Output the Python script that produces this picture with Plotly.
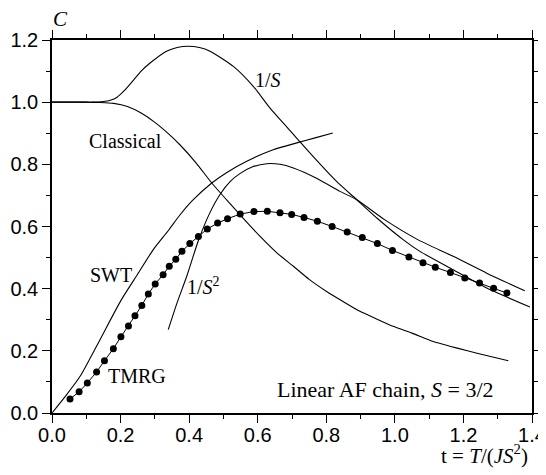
import plotly.graph_objects as go

# ---- data ----
classical_t = [0.0, 0.10, 0.14, 0.18, 0.22, 0.26, 0.30, 0.34, 0.373, 0.42, 0.466, 0.51, 0.548, 0.607, 0.655, 0.704, 0.75, 0.801, 0.85, 0.898, 0.95, 0.995, 1.05, 1.112, 1.16, 1.209, 1.27, 1.331]
classical_c = [1.0, 1.0, 0.999, 0.996, 0.986, 0.965, 0.935, 0.898, 0.863, 0.805, 0.74, 0.685, 0.638, 0.568, 0.516, 0.472, 0.43, 0.391, 0.358, 0.327, 0.301, 0.279, 0.257, 0.23, 0.215, 0.201, 0.184, 0.168]

inv_s_t = [0.0, 0.10, 0.12, 0.15, 0.17, 0.19, 0.21, 0.237, 0.26, 0.286, 0.334, 0.365, 0.397, 0.43, 0.461, 0.529, 0.587, 0.636, 0.689, 0.718, 0.77, 0.83, 0.889, 0.95, 1.025, 1.073, 1.17, 1.268, 1.394]
inv_s_c = [1.0, 1.0, 1.0, 1.002, 1.006, 1.016, 1.036, 1.07, 1.1, 1.126, 1.164, 1.176, 1.18, 1.176, 1.164, 1.115, 1.051, 0.981, 0.915, 0.879, 0.815, 0.745, 0.686, 0.625, 0.557, 0.52, 0.461, 0.402, 0.341]

inv_s2_t = [0.339, 0.365, 0.393, 0.427, 0.46, 0.49, 0.52, 0.548, 0.585, 0.626, 0.665, 0.704, 0.77, 0.84, 0.889, 0.97, 1.068, 1.17, 1.268, 1.379]
inv_s2_c = [0.268, 0.355, 0.44, 0.555, 0.643, 0.703, 0.745, 0.77, 0.792, 0.802, 0.800, 0.788, 0.756, 0.713, 0.686, 0.622, 0.557, 0.504, 0.45, 0.393]

swt_t = [0.0, 0.04, 0.082, 0.14, 0.2, 0.25, 0.295, 0.34, 0.373, 0.407, 0.466, 0.51, 0.568, 0.645, 0.714, 0.77, 0.819]
swt_c = [0.0, 0.055, 0.118, 0.236, 0.36, 0.447, 0.525, 0.588, 0.637, 0.681, 0.74, 0.774, 0.81, 0.847, 0.869, 0.886, 0.901]

tmrg_t = [0.0525, 0.079, 0.103, 0.130, 0.153, 0.179, 0.201, 0.223, 0.242, 0.262, 0.281, 0.301, 0.324, 0.342, 0.361, 0.379, 0.402,
          0.427, 0.453, 0.483, 0.512, 0.549, 0.589, 0.628, 0.665, 0.699, 0.735, 0.774, 0.817,
          0.861, 0.905, 0.949, 0.993, 1.041, 1.082, 1.118, 1.162, 1.204, 1.247, 1.288, 1.327]
tmrg_c = [0.045, 0.068, 0.0965, 0.132, 0.168, 0.207, 0.245, 0.28, 0.313, 0.346, 0.383, 0.415, 0.445, 0.472, 0.495, 0.52, 0.545,
          0.568, 0.592, 0.611, 0.625, 0.64, 0.648, 0.649, 0.644, 0.639, 0.629, 0.617, 0.600,
          0.582, 0.565, 0.545, 0.523, 0.502, 0.483, 0.469, 0.452, 0.434, 0.418, 0.401, 0.386]

x_ticks = [0.0, 0.2, 0.4, 0.6, 0.8, 1.0, 1.2, 1.4]
y_ticks = [0.0, 0.2, 0.4, 0.6, 0.8, 1.0, 1.2]

LINE = dict(color="black", width=1.1)
SERIF = "Liberation Serif, Times New Roman, serif"
SANS = "Liberation Sans, Arial, sans-serif"

fig = go.Figure()
for tx, cy in [(classical_t, classical_c), (inv_s_t, inv_s_c), (inv_s2_t, inv_s2_c), (swt_t, swt_c)]:
    fig.add_trace(go.Scatter(x=tx, y=cy, mode="lines", line=dict(shape="spline", smoothing=0.6, **LINE),
                             showlegend=False, hoverinfo="skip"))
fig.add_trace(go.Scatter(x=tmrg_t, y=tmrg_c, mode="lines+markers",
                         line=dict(color="black", width=1),
                         marker=dict(color="black", size=7),
                         showlegend=False, hoverinfo="skip"))

axis_common = dict(
    showline=True, linecolor="black", linewidth=1.6, mirror="ticks",
    ticks="outside", ticklen=8, tickwidth=1.4, tickcolor="black",
    showgrid=False, zeroline=False, tickformat=".1f", automargin=False,
    tickfont=dict(family=SANS, size=20, color="black"),
    minor=dict(ticks="outside", ticklen=4, tickwidth=1.2, tickcolor="black", dtick=0.1, showgrid=False),
)
fig.update_xaxes(range=[0, 1.4], tickvals=x_ticks, ticklabelstandoff=-5, **axis_common)
fig.update_yaxes(range=[0, 1.2], tickvals=y_ticks, **axis_common)

def label(x, y, text, size=20, xanchor="center", yanchor="middle", yref="y"):
    fig.add_annotation(x=x, y=y, xref="x", yref=yref, text=text, showarrow=False,
                       xanchor=xanchor, yanchor=yanchor,
                       font=dict(family=SERIF, size=size, color="black"))

label(0.026, 1.055, "<i>C</i>", size=21, yref="paper")
label(0.214, 0.876, "Classical")
label(0.63, 1.072, "1/<i>S</i>")
label(0.172, 0.443, "SWT")
label(0.249, 0.118, "TMRG")
label(0.388, 0.41, "1/<i>S</i><sup>2</sup>", xanchor="left")
label(1.295, 0.075, "Linear AF chain, <i>S</i> = 3/2", size=22, xanchor="right")
label(1.394, -0.11, "t = <i>T</i>/(<i>JS</i><sup>2</sup>)", size=21, xanchor="right", yref="paper")

# page body adds an ~8px offset; margins compensate so the plot box lands where the reference has it
fig.update_layout(
    width=546, height=475,
    margin=dict(l=44, r=22, t=32, b=70),
    paper_bgcolor="white", plot_bgcolor="white",
)
fig.write_html("out.html")
